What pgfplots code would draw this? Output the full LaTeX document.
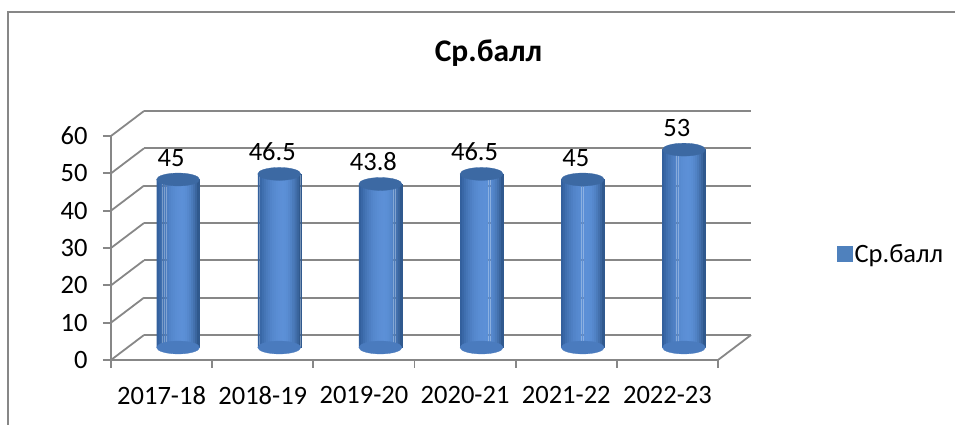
\documentclass[border=0pt]{standalone}
\usepackage{pgfplots}
\pgfplotsset{compat=1.18}
\usepackage{fontspec}
\setmainfont{Carlito}
\definecolor{gridgray}{HTML}{878787}
\definecolor{barleft}{HTML}{2F5C98}
\definecolor{barmid}{HTML}{5C90D7}
\definecolor{barright}{HTML}{2A5184}
\definecolor{bartop}{HTML}{3C69A3}
\definecolor{legblue}{HTML}{4F81BD}
\newcommand{\lblfont}{\fontsize{26.5}{30}\selectfont}
\begin{document}
\begin{tikzpicture}[x=1pt,y=1pt]
\useasboundingbox (0,0) rectangle (955,425);
\draw[gridgray, line width=2.5pt] (8,-10) -- (8,413) -- (970,413);
\node[font=\fontsize{31.5}{36}\selectfont\bfseries, anchor=base] at (488.5,363) {Ср.балл};
% front plane axis
\begin{axis}[
  at={(111pt,65pt)}, anchor=south west,
  scale only axis, width=607pt, height=224pt,
  xmin=0, xmax=6, ymin=0, ymax=60,
  axis x line*=bottom, axis y line*=left,
  axis line style={gridgray, line width=1.8pt},
  xtick={0,1,...,6},
  xticklabels={2017-18,2018-19,2019-20,2020-21,2021-22,2022-23},
  x tick label as interval,
  ytick={0,10,...,60},
  tick align=outside, major tick length=8pt,
  tick style={gridgray, line width=1.8pt},
  tick label style={font=\lblfont, text=black},
  yticklabel style={xshift=-12pt},
  xticklabel style={yshift=-15pt},
  /pgf/number format/assume math mode=true,
  clip=false,
]
\pgfplotsinvokeforeach{0,10,20,30,40,50,60}{
  \draw[gridgray, line width=1.8pt, shift={(33pt,25pt)}] (axis cs:0,#1) -- (axis cs:6,#1);
  \draw[gridgray, line width=1.8pt] (axis cs:0,#1) -- ++(33pt,25pt);
}
\draw[gridgray, line width=1.8pt] (axis cs:6,0) -- ++(33pt,25pt);
\end{axis}
% mid-depth plane axis with cylinders
\begin{axis}[
  at={(127.5pt,77.5pt)}, anchor=south west,
  scale only axis, width=607pt, height=224pt,
  xmin=0, xmax=6, ymin=0, ymax=60,
  hide axis, clip=false,
  /pgf/number format/assume math mode=true,
  legend style={draw=none, fill=none, at={(axis description cs:1.1688,0.4174)}, anchor=west, font=\lblfont, inner sep=0pt},
  strip/.style 2 args={forget plot, ybar, bar width=1.9pt, bar shift=#1, draw=#2, line width=0.3pt, fill=#2, mark=none},
  ell/.style={forget plot, only marks, mark=*, mark size=21.5pt, color=#1, mark options={yscale=0.3, fill=#1, draw=#1, line width=0.3pt}},
]
\addplot[ell=barmid!60!barleft] coordinates {(0.5,0) (1.5,0) (2.5,0) (3.5,0) (4.5,0) (5.5,0)};
\addplot[strip={-20.48pt}{barmid!8!barleft}]   coordinates {(0.5,45) (1.5,46.5) (2.5,43.8) (3.5,46.5) (4.5,45) (5.5,53)};
\addplot[strip={-18.43pt}{barmid!22!barleft}]  coordinates {(0.5,45) (1.5,46.5) (2.5,43.8) (3.5,46.5) (4.5,45) (5.5,53)};
\addplot[strip={-16.38pt}{barmid!36!barleft}]  coordinates {(0.5,45) (1.5,46.5) (2.5,43.8) (3.5,46.5) (4.5,45) (5.5,53)};
\addplot[strip={-14.33pt}{barmid!48!barleft}]  coordinates {(0.5,45) (1.5,46.5) (2.5,43.8) (3.5,46.5) (4.5,45) (5.5,53)};
\addplot[strip={-12.29pt}{barmid!59!barleft}]  coordinates {(0.5,45) (1.5,46.5) (2.5,43.8) (3.5,46.5) (4.5,45) (5.5,53)};
\addplot[strip={-10.24pt}{barmid!68!barleft}]  coordinates {(0.5,45) (1.5,46.5) (2.5,43.8) (3.5,46.5) (4.5,45) (5.5,53)};
\addplot[strip={-8.19pt}{barmid!77!barleft}]   coordinates {(0.5,45) (1.5,46.5) (2.5,43.8) (3.5,46.5) (4.5,45) (5.5,53)};
\addplot[strip={-6.14pt}{barmid!84!barleft}]   coordinates {(0.5,45) (1.5,46.5) (2.5,43.8) (3.5,46.5) (4.5,45) (5.5,53)};
\addplot[strip={-4.10pt}{barmid!89!barleft}]   coordinates {(0.5,45) (1.5,46.5) (2.5,43.8) (3.5,46.5) (4.5,45) (5.5,53)};
\addplot[strip={-2.05pt}{barmid!94!barleft}]   coordinates {(0.5,45) (1.5,46.5) (2.5,43.8) (3.5,46.5) (4.5,45) (5.5,53)};
\addplot[strip={0pt}{barmid!97!barleft}]       coordinates {(0.5,45) (1.5,46.5) (2.5,43.8) (3.5,46.5) (4.5,45) (5.5,53)};
\addplot[strip={2.05pt}{barmid!99!barleft}]    coordinates {(0.5,45) (1.5,46.5) (2.5,43.8) (3.5,46.5) (4.5,45) (5.5,53)};
\addplot[strip={4.10pt}{barmid}]               coordinates {(0.5,45) (1.5,46.5) (2.5,43.8) (3.5,46.5) (4.5,45) (5.5,53)};
\addplot[strip={6.14pt}{barmid!99!barright}]   coordinates {(0.5,45) (1.5,46.5) (2.5,43.8) (3.5,46.5) (4.5,45) (5.5,53)};
\addplot[strip={8.19pt}{barmid!95!barright}]   coordinates {(0.5,45) (1.5,46.5) (2.5,43.8) (3.5,46.5) (4.5,45) (5.5,53)};
\addplot[strip={10.24pt}{barmid!88!barright}]  coordinates {(0.5,45) (1.5,46.5) (2.5,43.8) (3.5,46.5) (4.5,45) (5.5,53)};
\addplot[strip={12.29pt}{barmid!79!barright}]  coordinates {(0.5,45) (1.5,46.5) (2.5,43.8) (3.5,46.5) (4.5,45) (5.5,53)};
\addplot[strip={14.33pt}{barmid!66!barright}]  coordinates {(0.5,45) (1.5,46.5) (2.5,43.8) (3.5,46.5) (4.5,45) (5.5,53)};
\addplot[strip={16.38pt}{barmid!51!barright}]  coordinates {(0.5,45) (1.5,46.5) (2.5,43.8) (3.5,46.5) (4.5,45) (5.5,53)};
\addplot[strip={18.43pt}{barmid!33!barright}]  coordinates {(0.5,45) (1.5,46.5) (2.5,43.8) (3.5,46.5) (4.5,45) (5.5,53)};
\addplot[strip={20.48pt}{barmid!12!barright}]  coordinates {(0.5,45) (1.5,46.5) (2.5,43.8) (3.5,46.5) (4.5,45) (5.5,53)};
\addplot[ell=bartop,
  nodes near coords, nodes near coords style={anchor=base, inner sep=0pt, yshift=13.5pt, xshift=-7pt, font=\lblfont, text=black}]
  coordinates {(0.5,45) (1.5,46.5) (2.5,43.8) (3.5,46.5) (4.5,45) (5.5,53)};
\addlegendimage{legend image code/.code={\fill[legblue] (-6pt,-7.5pt) rectangle (9pt,7.5pt);}}
\addlegendentry{Ср.балл}
\end{axis}
\end{tikzpicture}
\end{document}
